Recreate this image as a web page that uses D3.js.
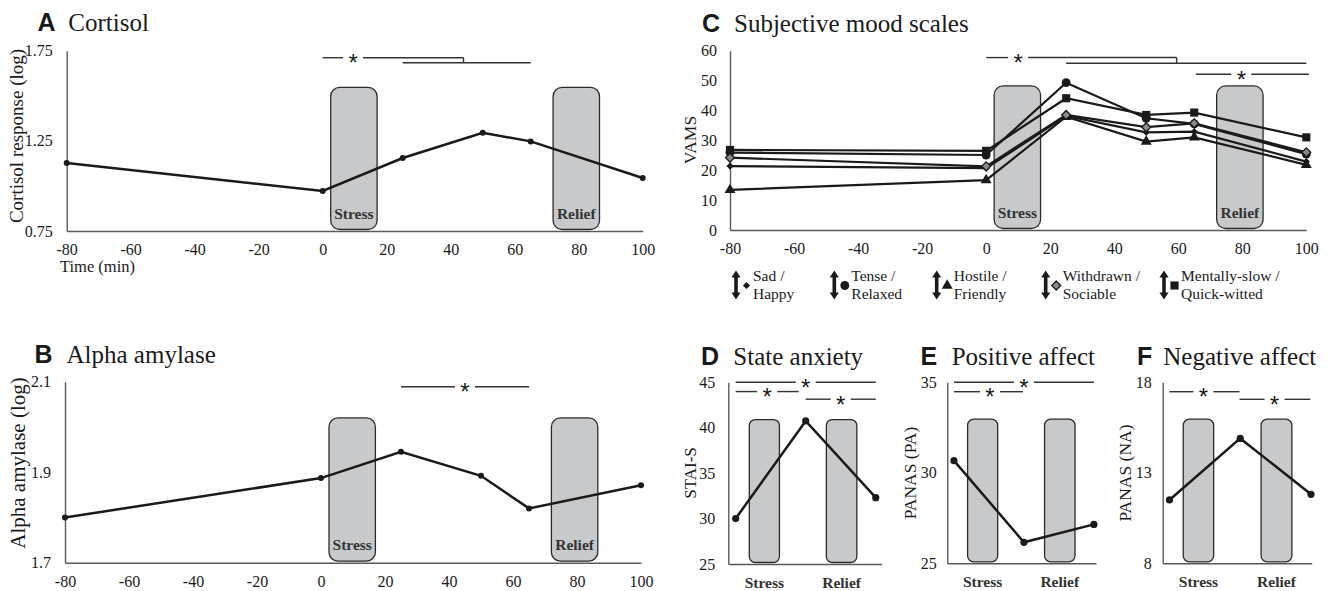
<!DOCTYPE html>
<html>
<head>
<meta charset="utf-8">
<script src="https://cdn.jsdelivr.net/npm/d3@7"></script>
<style>
  body { margin: 0; background: #fff; }
  svg { display: block; }
</style>
</head>
<body>
<div id="chart"></div>
<script>
// sampling times (min) and tick labels
const times = [-80, 0, 25, 50, 65, 100];
const timeTicks = [-80, -60, -40, -20, 0, 20, 40, 60, 80, 100];

// A / B
const cortisol = [1.127, 0.972, 1.155, 1.295, 1.247, 1.044];
const cortisolTicks = [0.75, 1.25, 1.75];
const amylase = [1.800, 1.887, 1.945, 1.892, 1.820, 1.871];
const amylaseTicks = [1.7, 1.9, 2.1];

// C - VAMS
const moodTop = ["Sad /", "Tense /", "Hostile /", "Withdrawn /", "Mentally-slow /"];
const moodBottom = ["Happy", "Relaxed", "Friendly", "Sociable", "Quick-witted"];
const sadHappy = [21.4, 20.7, 38.2, 32.7, 32.9, 22.9];
const tenseRelaxed = [25.9, 25.1, 49.3, 37.4, 35.5, 25.4];
const hostileFriendly = [13.4, 16.7, 37.9, 29.6, 31.0, 21.8];
const withdrawnSociable = [24.2, 21.3, 38.5, 34.4, 35.7, 26.0];
const slowQuick = [26.8, 26.5, 44.1, 38.5, 39.3, 31.0];
const vamsTicks = [0, 10, 20, 30, 40, 50, 60];

// stress / relief phases (min)
const phaseNames = ["Stress", "Relief"];
const phaseStart = [2.5, 72];
const phaseEnd = [17, 86.5];

// D / E / F
const visits = [0, 2, 4];
const visitBoxStart = [0.39, 2.59];
const visitBoxEnd = [1.25, 3.46];
const stateAnxiety = [30.0, 40.75, 32.3];
const staiTicks = [25, 30, 35, 40, 45];
const positiveAffect = [30.67, 26.16, 27.15];
const paTicks = [25, 30, 35];
const negativeAffect = [11.5, 14.9, 11.81];
const naTicks = [8, 13, 18];

const SERIF = "'Liberation Serif', 'Times New Roman', Times, serif";
const SANS = "'Liberation Sans', Arial, Helvetica, sans-serif";
const INK = "#1a1a1a";
const AXIS = "#5a5a5a";
const BOX_FILL = "#c8c9cb";

const svg = d3.select("#chart").append("svg")
    .attr("width", 1334)
    .attr("height", 591)
    .attr("viewBox", [0, 0, 1334, 591]);

function panelTitle(letter, word, x, xWord, y) {
    svg.append("text")
        .attr("x", x).attr("y", y)
        .style("font-family", SANS).style("font-weight", "bold")
        .style("font-size", "25px").attr("fill", INK)
        .text(letter);
    svg.append("text")
        .attr("x", xWord).attr("y", y)
        .style("font-family", SERIF).style("font-size", "25px").attr("fill", INK)
        .text(word);
}

function yLabel(text, x, y, size) {
    svg.append("text")
        .attr("transform", `translate(${x},${y}) rotate(-90)`)
        .attr("dy", "0.35em")
        .attr("text-anchor", "middle")
        .style("font-family", SERIF).style("font-size", size + "px").attr("fill", INK)
        .text(text);
}

function styleAxis(sel) {
    sel.attr("font-family", null).attr("font-size", null);
    sel.select(".domain").attr("stroke", AXIS).attr("stroke-width", 1.4);
    sel.selectAll("text")
        .style("font-family", SERIF).style("font-size", "16px").attr("fill", INK);
}

const plain = d => String(d);

function drawAxes(x, y, yTicks, yFmt, xTicks, pad) {
    svg.append("g")
        .attr("transform", `translate(${x.range()[0]},0)`)
        .call(d3.axisLeft(y).tickValues(yTicks).tickFormat(yFmt).tickSize(0).tickPadding(pad))
        .call(styleAxis);
    svg.append("g")
        .attr("transform", `translate(0,${y.range()[0]})`)
        .call(d3.axisBottom(x).tickValues(xTicks).tickFormat(plain).tickSize(0).tickPadding(13))
        .call(styleAxis);
}

// grey rounded boxes for stress / relief
function phaseBoxes(x, y, starts, ends, top, inside, r) {
    const base = y.range()[0] - 1.5;
    starts.forEach((s, i) => {
        svg.append("rect")
            .attr("x", x(s)).attr("y", y(top))
            .attr("width", x(ends[i]) - x(s))
            .attr("height", base - y(top))
            .attr("rx", r).attr("ry", r)
            .attr("fill", BOX_FILL).attr("stroke", "#2b2b2b").attr("stroke-width", 1.3);
        svg.append("text")
            .attr("x", (x(s) + x(ends[i])) / 2)
            .attr("y", inside ? base - 11 : y.range()[0] + 24)
            .attr("text-anchor", "middle")
            .style("font-family", SERIF).style("font-weight", "bold")
            .style("font-size", "15.5px").attr("fill", "#333")
            .text(phaseNames[i]);
    });
}

function hLine(x1, x2, py) {
    svg.append("line")
        .attr("x1", x1).attr("x2", x2).attr("y1", py).attr("y2", py)
        .attr("stroke", "#333").attr("stroke-width", 1.4);
}

// significance line, optional asterisk with a gap
function sig(x, y, a, b, v, star) {
    const py = y(v);
    if (star == null) { hLine(x(a), x(b), py); return; }
    hLine(x(a), x(star) - 10, py);
    hLine(x(star) + 10, x(b), py);
    svg.append("text")
        .attr("x", x(star)).attr("y", py + 13.5)
        .attr("text-anchor", "middle")
        .style("font-family", SANS).style("font-size", "24px").attr("fill", INK)
        .text("*");
}

function bracketDrop(x, y, at, v1, v2) {
    svg.append("line")
        .attr("x1", x(at)).attr("x2", x(at)).attr("y1", y(v1)).attr("y2", y(v2))
        .attr("stroke", "#333").attr("stroke-width", 1.4);
}

function series(x, y, xs, vs, r) {
    const line = d3.line().x((d, i) => x(xs[i])).y(d => y(d));
    svg.append("path").datum(vs)
        .attr("d", line)
        .attr("fill", "none").attr("stroke", INK).attr("stroke-width", 2.5);
    svg.append("g").selectAll("circle")
        .data(vs)
        .join("circle")
            .attr("cx", (d, i) => x(xs[i]))
            .attr("cy", d => y(d))
            .attr("r", r)
            .attr("fill", INK);
}

// ---------- A Cortisol
const xA = d3.scaleLinear().domain([-80, 100]).range([66.7, 642.7]);
const yA = d3.scaleLinear().domain([0.75, 1.75]).range([231, 50.7]);
panelTitle("A", "Cortisol", 37.5, 68.3, 31);
yLabel("Cortisol response (log)", 16.5, 136, 19);
phaseBoxes(xA, yA, phaseStart, phaseEnd, 1.547, true, 9);
drawAxes(xA, yA, cortisolTicks, d3.format(".2f"), timeTicks, 14);
svg.append("text")
    .attr("x", 60).attr("y", 272)
    .style("font-family", SERIF).style("font-size", "16.5px").attr("fill", INK)
    .text("Time (min)");
series(xA, yA, times, cortisol, 3);
sig(xA, yA, 0, 44, 1.711, 9.5);
bracketDrop(xA, yA, 44, 1.711, 1.683);
sig(xA, yA, 25, 65, 1.683);

// ---------- B Alpha amylase
const xB = d3.scaleLinear().domain([-80, 100]).range([65, 641]);
const yB = d3.scaleLinear().domain([1.7, 2.1]).range([562.7, 381.7]);
panelTitle("B", "Alpha amylase", 34.5, 66.5, 363);
yLabel("Alpha amylase (log)", 18, 463, 21);
phaseBoxes(xB, yB, phaseStart, phaseEnd, 2.02, true, 9);
drawAxes(xB, yB, amylaseTicks, d3.format(".1f"), timeTicks, 14);
series(xB, yB, times, amylase, 3);
sig(xB, yB, 25, 65, 2.089, 45);

// ---------- C Subjective mood scales
const xC = d3.scaleLinear().domain([-80, 100]).range([730, 1306.3]);
const yC = d3.scaleLinear().domain([0, 60]).range([230, 50.7]);
panelTitle("C", "Subjective mood scales", 702, 734, 31.5);
yLabel("VAMS", 690, 140, 17.5);
phaseBoxes(xC, yC, phaseStart, phaseEnd, 48.2, true, 9);
drawAxes(xC, yC, vamsTicks, plain, timeTicks, 13);
sig(xC, yC, 0, 59.5, 57.7, 10);
bracketDrop(xC, yC, 59.5, 57.7, 55.8);
sig(xC, yC, 25, 100, 55.8);
sig(xC, yC, 65.5, 100.8, 52.1, 79.7);

const moodSeries = [sadHappy, tenseRelaxed, hostileFriendly, withdrawnSociable, slowQuick];
// marker shapes per series: symbol, size, rotation, fill
const moodMarkers = [
    { type: d3.symbolSquare, size: 26, rot: 45, fill: INK },
    { type: d3.symbolCircle, size: 62, rot: 0, fill: INK },
    { type: d3.symbolTriangle, size: 52, rot: 0, fill: INK },
    { type: d3.symbolSquare, size: 40, rot: 45, fill: "#8a8a8a" },
    { type: d3.symbolSquare, size: 66, rot: 0, fill: INK }
];
const moodLine = d3.line().x((d, i) => xC(times[i])).y(d => yC(d));
svg.append("g").selectAll("path")
    .data(moodSeries)
    .join("path")
        .attr("d", moodLine)
        .attr("fill", "none").attr("stroke", INK).attr("stroke-width", 2.2);

function marker(g, m, cx, cy) {
    g.append("path")
        .attr("d", d3.symbol(m.type, m.size)())
        .attr("transform", `translate(${cx},${cy}) rotate(${m.rot})`)
        .attr("fill", m.fill)
        .attr("stroke", m.fill === INK ? "none" : INK)
        .attr("stroke-width", 1.3);
}
const markG = svg.append("g");
moodSeries.forEach((vs, s) => {
    vs.forEach((v, i) => marker(markG, moodMarkers[s], xC(times[i]), yC(v)));
});

// legend under C
const legendArrowX = [736, 834.3, 936.7, 1045.7, 1164];
moodTop.forEach((t, i) => {
    const ax = legendArrowX[i];
    const y1 = 270.5, y2 = 299.5;
    svg.append("path")
        .attr("d", `M${ax},${y1} L${ax + 4.6},${y1 + 7} L${ax + 1.8},${y1 + 7} L${ax + 1.8},${y2 - 7} L${ax + 4.6},${y2 - 7} L${ax},${y2} L${ax - 4.6},${y2 - 7} L${ax - 1.8},${y2 - 7} L${ax - 1.8},${y1 + 7} L${ax - 4.6},${y1 + 7} Z`)
        .attr("fill", INK);
    marker(svg, moodMarkers[i], ax + 10.5, 285.5);
    svg.append("text")
        .attr("x", ax + 17).attr("y", 281)
        .style("font-family", SERIF).style("font-size", "15.5px").attr("fill", INK)
        .text(t);
    svg.append("text")
        .attr("x", ax + 17).attr("y", 299)
        .style("font-family", SERIF).style("font-size", "15.5px").attr("fill", INK)
        .text(moodBottom[i]);
});

// ---------- D / E / F
function visitPanel(cfg) {
    const x = d3.scaleLinear().domain(cfg.xDomain).range(cfg.xRange);
    const y = d3.scaleLinear().domain(cfg.yDomain).range(cfg.yRange);
    panelTitle(cfg.letter, cfg.word, cfg.tx, cfg.twx, 365);
    phaseBoxes(x, y, visitBoxStart, visitBoxEnd, cfg.boxTop, false, 6);
    drawAxes(x, y, cfg.ticks, plain, [], cfg.pad);
    yLabel(cfg.label, cfg.lx, 473, cfg.lsize);
    series(x, y, visits, cfg.values, 3.6);
    return { x, y };
}

const D = visitPanel({
    letter: "D", word: "State anxiety", tx: 701, twx: 733.3,
    xDomain: [-0.21, 4.17], xRange: [728.3, 881.7],
    yDomain: [25, 45], yRange: [564, 382.3],
    ticks: staiTicks, pad: 13, boxTop: 40.9,
    label: "STAI-S", lx: 690, lsize: 17, values: stateAnxiety
});
sig(D.x, D.y, 0, 4, 45, 2);
sig(D.x, D.y, 0, 1.8, 43.98, 0.9);
sig(D.x, D.y, 2, 4, 43.14, 3);

const E = visitPanel({
    letter: "E", word: "Positive affect", tx: 920.5, twx: 951.7,
    xDomain: [-0.19, 4.06], xRange: [947.3, 1096],
    yDomain: [25, 35], yRange: [563.3, 382.3],
    ticks: paTicks, pad: 10.5, boxTop: 32.96,
    label: "PANAS (PA)", lx: 910, lsize: 17.5, values: positiveAffect
});
sig(E.x, E.y, 0, 4, 35, 2);
sig(E.x, E.y, 0, 1.97, 34.48, 1.03);

const F = visitPanel({
    letter: "F", word: "Negative affect", tx: 1137, twx: 1163.3,
    xDomain: [-0.19, 4.02], xRange: [1162.7, 1311.7],
    yDomain: [8, 18], yRange: [563.3, 382.3],
    ticks: naTicks, pad: 11, boxTop: 15.96,
    label: "PANAS (NA)", lx: 1125, lsize: 17.5, values: negativeAffect
});
sig(F.x, F.y, 0, 1.98, 17.48, 0.96);
sig(F.x, F.y, 1.98, 3.98, 17.06, 2.97);
</script>
</body>
</html>
